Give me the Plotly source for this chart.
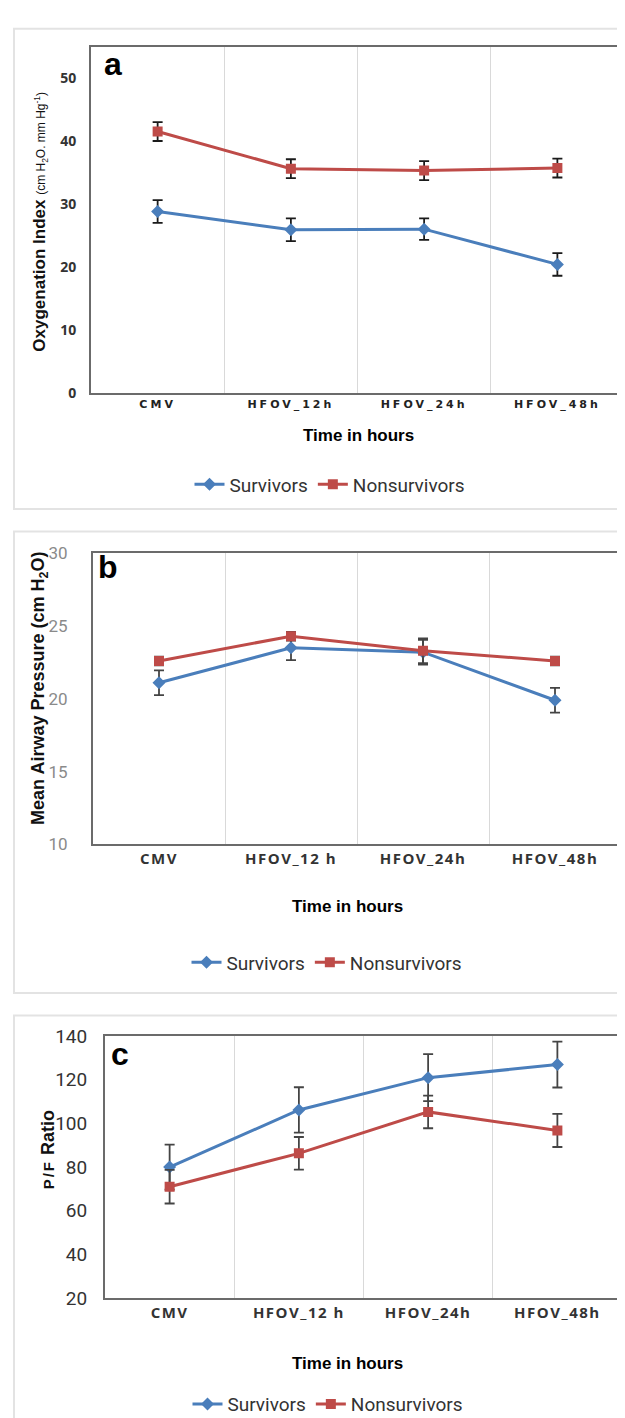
import plotly.graph_objects as go

W, H = 625, 1418

# ---------------- data ----------------
cats_a = ["CMV", "HFOV_12h", "HFOV_24h", "HFOV_48h"]
cats_bc = ["CMV", "HFOV_12 h", "HFOV_24h", "HFOV_48h"]

oi_surv = [28.8, 25.9, 26.0, 20.4]
oi_surv_err = [1.8, 1.8, 1.7, 1.8]
oi_non = [41.5, 35.6, 35.3, 35.7]
oi_non_err = [1.5, 1.5, 1.5, 1.5]

map_surv = [21.1, 23.5, 23.2, 19.9]
map_surv_err = [0.85, 0.85, 0.85, 0.85]
map_non = [22.6, 24.3, 23.3, 22.6]
map_non_err = [0.3, 0.3, 0.85, 0.3]

pf_surv = [80.0, 106.2, 121.0, 127.0]
pf_surv_err = [10.3, 10.4, 10.8, 10.5]
pf_non = [71.0, 86.3, 105.3, 96.8]
pf_non_err = [7.7, 7.5, 7.5, 7.6]

BLUE = "#4a7ebb"
RED = "#be4b48"

def px_y(py):
    return 1 - py / H

def px_x(px):
    return px / W

fig = go.Figure()

panels = [
    dict(cats=cats_a, s=oi_surv, se=oi_surv_err, n=oi_non, ne=oi_non_err,
         xa="x", ya="y", leg="legend", ecol="#1a1a1a"),
    dict(cats=cats_bc, s=map_surv, se=map_surv_err, n=map_non, ne=map_non_err,
         xa="x2", ya="y2", leg="legend2", ecol="#444444"),
    dict(cats=cats_bc, s=pf_surv, se=pf_surv_err, n=pf_non, ne=pf_non_err,
         xa="x3", ya="y3", leg="legend3", ecol="#444444"),
]

for p in panels:
    fig.add_trace(go.Scatter(
        x=p["cats"], y=p["s"], name="Survivors", mode="lines+markers",
        line=dict(color=BLUE, width=3),
        marker=dict(symbol="diamond", size=10, color=BLUE),
        error_y=dict(type="data", array=p["se"], color=p["ecol"], thickness=1.8, width=5),
        xaxis=p["xa"], yaxis=p["ya"], legend=p["leg"]))
    fig.add_trace(go.Scatter(
        x=p["cats"], y=p["n"], name="Nonsurvivors", mode="lines+markers",
        line=dict(color=RED, width=3),
        marker=dict(symbol="square", size=10, color=RED),
        error_y=dict(type="data", array=p["ne"], color=p["ecol"], thickness=1.8, width=5),
        xaxis=p["xa"], yaxis=p["ya"], legend=p["leg"]))

# plot-area pixel boxes (left, right, top, bottom)
boxes = {
    "a": (83, 616, 28, 380),
    "b": (85, 613, 543, 839),
    "c": (97, 614, 1034, 1300),
}

def spaced(labels, px):
    return [f"<span style='letter-spacing:{px}px'>{t}</span>" for t in labels]

def xaxis_def(box, cats, ticktext, fontdict, standoff):
    l, r, t, b = box
    return dict(domain=[px_x(l), px_x(r)], type="category", range=[-0.5, 3.5],
                tickmode="array", tickvals=cats, ticktext=ticktext,
                tickson="boundaries", showgrid=True, gridcolor="#d9d9d9", gridwidth=1,
                showline=True, linecolor="#6b6b6b", linewidth=2, mirror=True,
                ticks="outside", ticklen=standoff, tickcolor="rgba(0,0,0,0)",
                tickfont=fontdict, zeroline=False, fixedrange=True)

def yaxis_def(box, rng, dtick, fontdict, standoff, anchor):
    l, r, t, b = box
    return dict(domain=[px_y(b), px_y(t)], range=rng, dtick=dtick, tick0=rng[0],
                showgrid=False, showline=True, linecolor="#6b6b6b", linewidth=2,
                mirror=True, ticks="outside", ticklen=standoff,
                tickcolor="rgba(0,0,0,0)", tickfont=fontdict, zeroline=False,
                anchor=anchor, fixedrange=True)

xfont_a = dict(family="DejaVu Sans", size=11, color="#222222", weight="bold")
xfont_bc = dict(family="Open Sans", size=15, color="#333333", weight="bold")

fig.update_layout(
    xaxis=xaxis_def(boxes["a"], cats_a, spaced(cats_a, 3), xfont_a, 15) | dict(anchor="y"),
    yaxis=yaxis_def(boxes["a"], [0, 55], 10,
                    dict(family="Open Sans", size=14, color="#333333", weight="bold"), 10, "x"),
    xaxis2=xaxis_def(boxes["b"], cats_bc, spaced(cats_bc, 1.5), xfont_bc, 16) | dict(anchor="y2"),
    yaxis2=yaxis_def(boxes["b"], [10, 30], 5,
                     dict(family="Liberation Sans Narrow, Roboto, sans-serif", size=17, color="#8a8a8a"), 20, "x2"),
    xaxis3=xaxis_def(boxes["c"], cats_bc, spaced(cats_bc, 1.5), xfont_bc, 12) | dict(anchor="y3"),
    yaxis3=yaxis_def(boxes["c"], [20, 140], 20,
                     dict(family="Liberation Sans Narrow, Roboto, sans-serif", size=19, color="#333333"), 12, "x3"),
)

legend_common = dict(orientation="h", xanchor="center", yanchor="middle",
                     font=dict(family="Liberation Sans Narrow, Roboto, sans-serif", size=19, color="#333333"),
                     bgcolor="rgba(0,0,0,0)", itemwidth=30, tracegroupgap=0)
fig.update_layout(
    legend=legend_common | dict(x=px_x(322), y=px_y(473)),
    legend2=legend_common | dict(x=px_x(319), y=px_y(959)),
    legend3=legend_common | dict(x=px_x(320), y=px_y(1408)),
)

# outer panel frames
shapes = []
for top, bot in [(10, 498), (521, 990), (1013, 1440)]:
    shapes.append(dict(type="rect", xref="paper", yref="paper",
                       x0=px_x(6), x1=px_x(640), y0=px_y(bot), y1=px_y(top),
                       line=dict(color="#e3e3e3", width=2), fillcolor="rgba(0,0,0,0)",
                       layer="below"))
fig.update_layout(shapes=shapes)

ann = []
# panel letters
for txt, x, y in [("a", 105, 46), ("b", 100, 557), ("c", 112, 1052)]:
    ann.append(dict(text=txt, x=px_x(x), y=px_y(y), xref="paper", yref="paper",
                    showarrow=False, xanchor="center", yanchor="middle",
                    font=dict(family="Liberation Sans, Arial", size=32, color="#000000", weight="bold")))
# x titles
for x, y in [(350, 423), (339, 902), (339, 1367)]:
    ann.append(dict(text="Time in hours", x=px_x(x), y=px_y(y), xref="paper", yref="paper",
                    showarrow=False, xanchor="center", yanchor="middle",
                    font=dict(family="Liberation Sans, Arial", size=17, color="#000000", weight="bold")))
# y titles
ann.append(dict(text="Oxygenation Index <span style='font-size:12px;font-weight:normal'>(cm H<sub>2</sub>O. mm Hg<sup>-1</sup>)</span>",
                x=px_x(32), y=px_y(206), xref="paper", yref="paper", textangle=-90,
                showarrow=False, xanchor="center", yanchor="middle",
                font=dict(family="Liberation Sans, Arial", size=17, color="#111111", weight="bold")))
ann.append(dict(text="Mean Airway Pressure (cm H<sub>2</sub>O)",
                x=px_x(32), y=px_y(681), xref="paper", yref="paper", textangle=-90,
                showarrow=False, xanchor="center", yanchor="middle",
                font=dict(family="Liberation Sans, Arial", size=18, color="#111111", weight="bold")))
ann.append(dict(text="<span style='font-size:15px;letter-spacing:2px'>P/F</span> Ratio",
                x=px_x(40), y=px_y(1150), xref="paper", yref="paper", textangle=-90,
                showarrow=False, xanchor="center", yanchor="middle",
                font=dict(family="Liberation Sans, Arial", size=18, color="#111111", weight="bold")))
fig.update_layout(annotations=ann)

fig.update_layout(width=W, height=H, margin=dict(l=0, r=0, t=0, b=0),
                  paper_bgcolor="white", plot_bgcolor="white", showlegend=True)

fig.write_html("out.html")
